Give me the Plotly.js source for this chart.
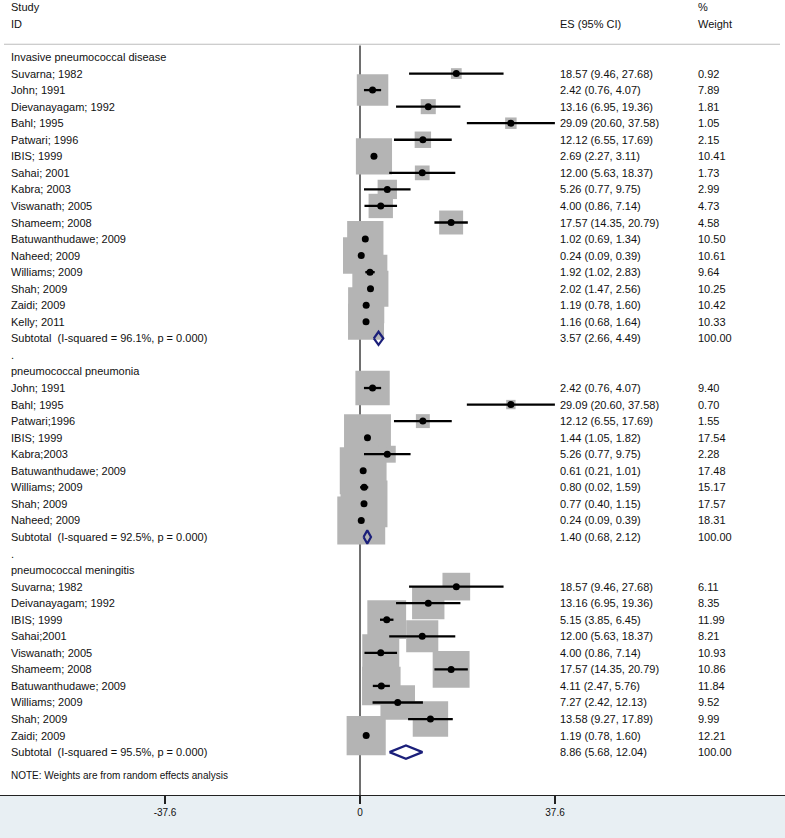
<!DOCTYPE html>
<html>
<head>
<meta charset="utf-8">
<script src="https://cdn.plot.ly/plotly-3.0.1.min.js"></script>
<style>html,body{margin:0;padding:0;background:#fff;}#chart{width:785px;height:838px;}</style>
</head>
<body>
<div id="chart"></div>
<script>
// ---------- DATA ----------
const groupNames = ["Invasive pneumococcal disease", "pneumococcal pneumonia", "pneumococcal meningitis"];

const ipdStudies = ["Suvarna; 1982","John; 1991","Dievanayagam; 1992","Bahl; 1995","Patwari; 1996","IBIS; 1999","Sahai; 2001","Kabra; 2003","Viswanath; 2005","Shameem; 2008","Batuwanthudawe; 2009","Naheed; 2009","Williams; 2009","Shah; 2009","Zaidi; 2009","Kelly; 2011"];
const ipdES = [18.57, 2.42, 13.16, 29.09, 12.12, 2.69, 12.00, 5.26, 4.00, 17.57, 1.02, 0.24, 1.92, 2.02, 1.19, 1.16];
const ipdLo = [9.46, 0.76, 6.95, 20.60, 6.55, 2.27, 5.63, 0.77, 0.86, 14.35, 0.69, 0.09, 1.02, 1.47, 0.78, 0.68];
const ipdHi = [27.68, 4.07, 19.36, 37.58, 17.69, 3.11, 18.37, 9.75, 7.14, 20.79, 1.34, 0.39, 2.83, 2.56, 1.60, 1.64];
const ipdWt = [0.92, 7.89, 1.81, 1.05, 2.15, 10.41, 1.73, 2.99, 4.73, 4.58, 10.50, 10.61, 9.64, 10.25, 10.42, 10.33];

const pneStudies = ["John; 1991","Bahl; 1995","Patwari;1996","IBIS; 1999","Kabra;2003","Batuwanthudawe; 2009","Williams; 2009","Shah; 2009","Naheed; 2009"];
const pneES = [2.42, 29.09, 12.12, 1.44, 5.26, 0.61, 0.80, 0.77, 0.24];
const pneLo = [0.76, 20.60, 6.55, 1.05, 0.77, 0.21, 0.02, 0.40, 0.09];
const pneHi = [4.07, 37.58, 17.69, 1.82, 9.75, 1.01, 1.59, 1.15, 0.39];
const pneWt = [9.40, 0.70, 1.55, 17.54, 2.28, 17.48, 15.17, 17.57, 18.31];

const menStudies = ["Suvarna; 1982","Deivanayagam; 1992","IBIS; 1999","Sahai;2001","Viswanath; 2005","Shameem; 2008","Batuwanthudawe; 2009","Williams; 2009","Shah; 2009","Zaidi; 2009"];
const menES = [18.57, 13.16, 5.15, 12.00, 4.00, 17.57, 4.11, 7.27, 13.58, 1.19];
const menLo = [9.46, 6.95, 3.85, 5.63, 0.86, 14.35, 2.47, 2.42, 9.27, 0.78];
const menHi = [27.68, 19.36, 6.45, 18.37, 7.14, 20.79, 5.76, 12.13, 17.89, 1.60];
const menWt = [6.11, 8.35, 11.99, 8.21, 10.93, 10.86, 11.84, 9.52, 9.99, 12.21];

const subLabels = ["Subtotal\u00a0 (I-squared = 96.1%, p = 0.000)", "Subtotal\u00a0 (I-squared = 92.5%, p = 0.000)", "Subtotal\u00a0 (I-squared = 95.5%, p = 0.000)"];
const subES = [3.57, 1.40, 8.86];
const subLo = [2.66, 0.68, 5.68];
const subHi = [4.49, 2.12, 12.04];
const subWt = [100.00, 100.00, 100.00];

const tickVals = [-37.6, 0, 37.6];
const tickText = ["-37.6", "0", "37.6"];
const noteText = "NOTE: Weights are from random effects analysis";

// ---------- BUILD ROWS ----------
const groups = [
  {s: ipdStudies, es: ipdES, lo: ipdLo, hi: ipdHi, w: ipdWt},
  {s: pneStudies, es: pneES, lo: pneLo, hi: pneHi, w: pneWt},
  {s: menStudies, es: menES, lo: menLo, hi: menHi, w: menWt}
];
const W = 785;
const FONT = "Liberation Sans, Arial, sans-serif";
const fs = 11;
const txtCol = "#111";
const colStudy = 9 / W, colES = 558 / W, colWt = 696 / W;

const annotations = [];
function addText(xp, row, text, size) {
  annotations.push({xref: "paper", yref: "y", x: xp, y: row, text: text, showarrow: false,
    xanchor: "left", yanchor: "middle", font: {family: FONT, size: size || fs, color: txtCol}});
}
const f2 = v => v.toFixed(2);

const bx = [], by = [], bs = [];
const px = [], py = [], ep = [], em = [];
const dx = [], dy = [];
let row = 0;
groups.forEach((g, gi) => {
  addText(colStudy, row, groupNames[gi]);
  row++;
  g.s.forEach((name, i) => {
    addText(colStudy, row, name);
    addText(colES, row, f2(g.es[i]) + " (" + f2(g.lo[i]) + ", " + f2(g.hi[i]) + ")");
    addText(colWt, row, f2(g.w[i]));
    bx.push(g.es[i]); by.push(row); bs.push(11.2 * Math.sqrt(g.w[i]));
    px.push(g.es[i]); py.push(row); ep.push(g.hi[i] - g.es[i]); em.push(g.es[i] - g.lo[i]);
    row++;
  });
  addText(colStudy, row, subLabels[gi]);
  addText(colES, row, f2(subES[gi]) + " (" + f2(subLo[gi]) + ", " + f2(subHi[gi]) + ")");
  addText(colWt, row, f2(subWt[gi]));
  const h = 0.4;
  dx.push(subLo[gi], subES[gi], subHi[gi], subES[gi], subLo[gi], null);
  dy.push(row, row - h, row, row + h, row, null);
  row++;
  if (gi < groups.length - 1) {
    addText(colStudy, row, ".");
    row++;
  }
});
addText(colStudy, row + 0.4, noteText, 10);

// headers
addText(colStudy, -3, "Study");
addText(colStudy, -2, "ID");
addText(colES, -2, "ES (95% CI)");
addText(colWt, -3, "%");
addText(colWt, -2, "Weight");

const yTop = -3.444, yBot = 44.59;

const traces = [
  {type: "scatter", mode: "markers", x: bx, y: by, hoverinfo: "skip",
   marker: {symbol: "square", size: bs, color: "#b4b4b4", opacity: 1, line: {width: 0}}},
  {type: "scatter", mode: "markers", x: px, y: py, hoverinfo: "skip",
   marker: {symbol: "circle", size: 7, color: "#000", opacity: 1},
   error_x: {type: "data", symmetric: false, array: ep, arrayminus: em, thickness: 2.3, width: 0, color: "#000"}},
  {type: "scatter", mode: "lines", x: dx, y: dy, hoverinfo: "skip",
   line: {color: "#1b1f7a", width: 2.2}}
];

const layout = {
  width: 785, height: 838,
  margin: {l: 0, r: 0, t: 0, b: 43, pad: 0},
  paper_bgcolor: "#e8eff3",
  plot_bgcolor: "#ffffff",
  showlegend: false,
  xaxis: {range: [-69.42, 81.95], tickvals: tickVals, ticktext: tickText, ticks: "outside",
    ticklen: 8, tickwidth: 1.3, tickcolor: "#222", showline: true, linecolor: "#222", linewidth: 1.3,
    showgrid: false, zeroline: false, tickfont: {family: FONT, size: 10, color: "#111"}, fixedrange: true},
  yaxis: {range: [yBot, yTop], showgrid: false, zeroline: false, showticklabels: false, showline: false, ticks: "", fixedrange: true},
  shapes: [
    {type: "line", xref: "paper", yref: "y", x0: 4 / W, x1: 780 / W, y0: -0.77, y1: -0.77, line: {color: "#bdbdbd", width: 1.2}},
    {type: "line", xref: "x", yref: "y", x0: 0, x1: 0, y0: -0.7, y1: yBot, layer: "below", line: {color: "#222", width: 1.3}}
  ],
  annotations: annotations,
  font: {family: FONT}
};

Plotly.newPlot("chart", traces, layout, {displayModeBar: false, staticPlot: true});
</script>
</body>
</html>
